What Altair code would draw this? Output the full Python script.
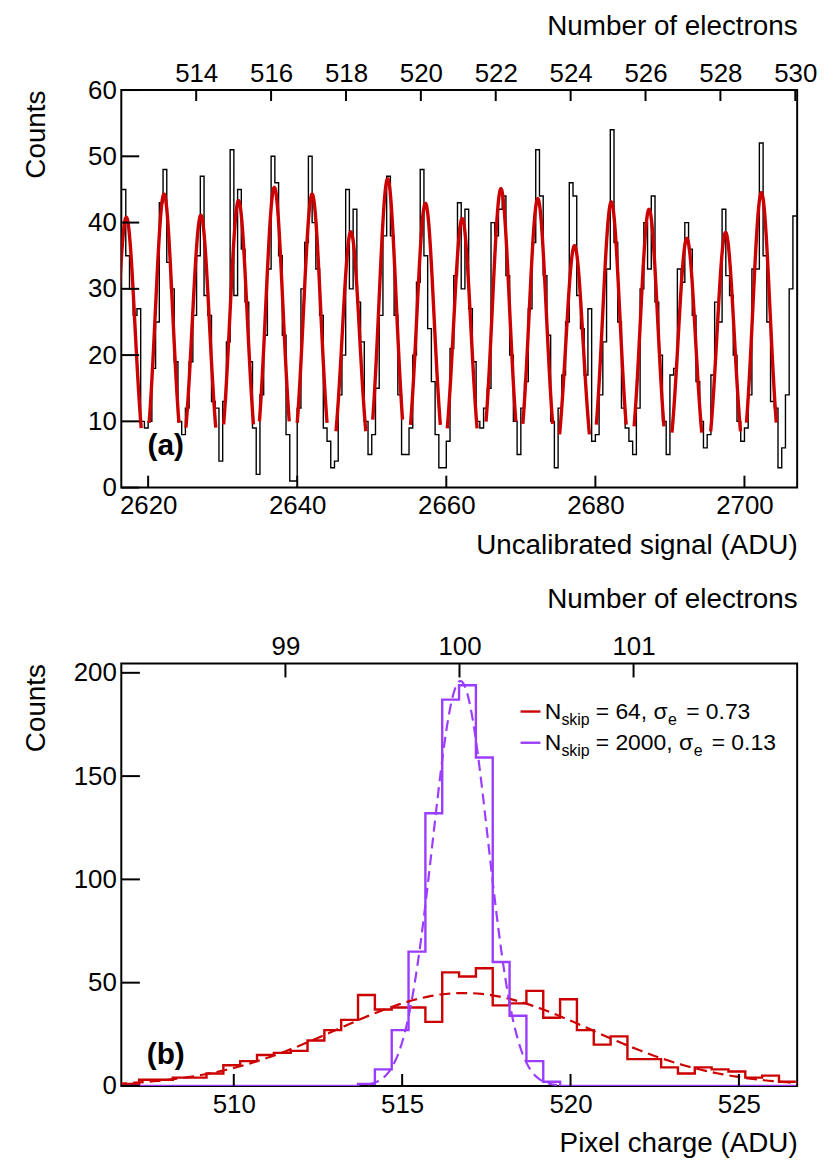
import altair as alt
import pandas as pd
import numpy as np

FONT = "Liberation Sans"

# ---------------- Panel (a) data ----------------
a_bin_start = 2616.0
a_bin_width = 0.5
a_counts = [45,
    45, 35, 30, 26, 27, 10,
    9, 10, 18, 25, 43, 48, 34, 30, 19, 10,
    8, 12, 19, 26, 35, 47, 29, 26, 13, 12,
    4, 13, 22, 51, 29, 45, 36, 28, 19, 9,
    2, 14, 23, 33, 50, 46, 35, 23, 8, 1,
    1, 12, 30, 37, 50, 40, 33, 26, 9, 7,
    3, 4, 14, 20, 45, 30, 42, 28, 22, 10,
    5, 8, 15, 26, 38, 47, 38, 26, 14, 5,
    5, 9, 20, 31, 48, 35, 24, 16, 8, 3,
    3, 7, 21, 32, 43, 30, 42, 27, 19, 10,
    9, 12, 15, 40, 38, 42, 44, 32, 20, 10,
    5, 12, 16, 27, 37, 51, 44, 32, 23, 10,
    3, 12, 17, 25, 46, 44, 29, 24, 17, 27,
    7, 8, 14, 22, 33, 54, 37, 25, 12, 9,
    7, 5, 12, 30, 40, 33, 44, 28, 20, 10,
    5, 17, 18, 33, 31, 40, 36, 26, 16, 10,
    6, 8, 17, 28, 25, 42, 32, 29, 20, 10,
    7, 9, 14, 33, 33, 52, 35, 25, 13, 12,
    3, 6, 14, 30, 41]
a_peak_centers = [2617.07, 2622.13, 2627.07, 2632.13, 2636.93, 2642.0, 2647.2, 2652.13,
                  2657.2, 2662.13, 2667.33, 2672.27, 2677.2, 2682.13, 2687.2, 2692.27,
                  2697.47, 2702.27]
a_peak_heights = [40.8, 44.3, 41.1, 43.3, 45.3, 44.3, 38.6, 46.6, 42.9, 40.6, 45.1, 43.6,
                  36.5, 43.1, 42.0, 37.6, 38.5, 44.5]
a_peak_sigma = 1.15
a_fit_halfrange = 2.0
a_x_ticks = [2620, 2640, 2660, 2680, 2700]
a_y_ticks = [0, 10, 20, 30, 40, 50, 60]
a_e_ticks = [514, 516, 518, 520, 522, 524, 526, 528, 530]

# ---------------- Panel (b) data ----------------
b_bin_start = 506.69
b_bin_width = 0.5
b_red_counts = [1, 3, 3, 4, 4, 6, 10, 12, 15, 16, 17, 22, 27, 32, 44, 37, 38, 38, 31, 55,
                53, 57, 39, 40, 46, 33, 42, 27, 20, 24, 13, 13, 9, 6, 9, 8, 7, 4, 5, 2]
b_purple_counts = [0, 0, 0, 0, 0, 0, 0, 0, 0, 0, 0, 0, 0, 0, 1, 8, 27, 65, 132, 187,
                   194, 159, 60, 34, 12, 2, 0, 0, 0, 0, 0, 0, 0, 0, 0, 0, 0, 0, 0, 0]
b_red_fit = (45.0, 516.83, 3.77)      # amplitude, mean, sigma (ADU)
b_purple_fit = (196.0, 516.73, 0.82)
b_purple_fit_range = (514.0, 519.6)
b_x_ticks = [510, 515, 520, 525]
b_y_ticks = [0, 50, 100, 150, 200]
b_e_ticks = [99, 100, 101]
legend_labels = [("N", "skip", "= 64, σ", "e", "= 0.73"),
                 ("N", "skip", "= 2000, σ", "e", "= 0.13")]

RED = "#cc0000"
PURPLE = "#9b3dff"
W = 680
HA, HB = 400, 425
LAB = 26
TIT = 28


def step_df(start, width, counts):
    xs = [start + i * width for i in range(len(counts) + 1)]
    ys = list(counts) + [counts[-1]]
    return pd.DataFrame({"x": xs, "y": ys})


def gauss_df(amp, mean, sigma, lo, hi, key=0):
    xs = np.linspace(lo, hi, 160)
    ys = amp * np.exp(-(xs - mean) ** 2 / (2 * sigma ** 2))
    return pd.DataFrame({"x": xs, "y": ys, "k": key})


ax_common = dict(labelFont=FONT, labelFontSize=LAB, titleFont=FONT, titleFontSize=TIT,
                 titleFontWeight="normal", labelColor="black", titleColor="black",
                 domain=False, ticks=False, tickSize=0, grid=False)


def panel(xdom, ydom, edom, height, xticks, yticks, eticks, xtitle, layers_fn, ltick, ttick):
    xs = alt.Scale(domain=xdom, nice=False, zero=False)
    ys = alt.Scale(domain=ydom, nice=False, zero=False)
    es = alt.Scale(domain=edom, nice=False, zero=False)
    xaxis = alt.Axis(values=xticks, title=xtitle, titleAnchor="end", labelPadding=5.5,
                     titlePadding=12.5, format="d", orient="bottom", **ax_common)
    yaxis = alt.Axis(values=yticks, title="Counts", titleAnchor="end", labelPadding=5,
                     titleX=-71, format="d", orient="left", **ax_common)
    eaxis = alt.Axis(values=eticks, title="Number of electrons", titleAnchor="end",
                     orient="top", labelPadding=4, titlePadding=20, format="d", **ax_common)

    layers = layers_fn(xs, ys, xaxis, yaxis)
    lt = alt.Chart(pd.DataFrame({"v": yticks})).mark_rule(color="black", strokeWidth=2).encode(
        y=alt.Y("v:Q", scale=ys, axis=yaxis), x=alt.value(0), x2=alt.value(ltick))
    bt = alt.Chart(pd.DataFrame({"v": xticks})).mark_rule(color="black", strokeWidth=2).encode(
        x=alt.X("v:Q", scale=xs, axis=None), y=alt.value(height - 12), y2=alt.value(height))
    top = alt.Chart(pd.DataFrame({"e": eticks})).mark_rule(color="black", strokeWidth=2).encode(
        x=alt.X("e:Q", scale=es, axis=eaxis), y=alt.value(0), y2=alt.value(ttick))
    return alt.layer(*layers, lt, bt, top).resolve_scale(x="independent").properties(
        width=W, height=height)


def layers_a(xs, ys, xaxis, yaxis):
    hist = alt.Chart(step_df(a_bin_start, a_bin_width, a_counts)).mark_line(
        interpolate="step-after", color="black", strokeWidth=1.4, clip=True).encode(
        x=alt.X("x:Q", scale=xs, axis=xaxis), y=alt.Y("y:Q", scale=ys, axis=yaxis))
    fit = pd.concat([gauss_df(h, c, a_peak_sigma, c - a_fit_halfrange, c + a_fit_halfrange, i)
                     for i, (c, h) in enumerate(zip(a_peak_centers, a_peak_heights))])
    fits = alt.Chart(fit).mark_line(color=RED, strokeWidth=3.4, clip=True).encode(
        x=alt.X("x:Q", scale=xs, axis=None), y=alt.Y("y:Q", scale=ys, axis=yaxis),
        detail="k:N")
    lab = alt.Chart(pd.DataFrame({"x": [2622.36], "y": [6.2], "t": ["(a)"]})).mark_text(
        font=FONT, fontSize=30, fontWeight="bold", color="black").encode(
        x=alt.X("x:Q", scale=xs, axis=None), y=alt.Y("y:Q", scale=ys, axis=yaxis), text="t:N")
    return [hist, fits, lab]


def layers_b(xs, ys, xaxis, yaxis):
    red = alt.Chart(step_df(b_bin_start, b_bin_width, b_red_counts)).mark_line(
        interpolate="step-after", color=RED, strokeWidth=2.4, clip=True).encode(
        x=alt.X("x:Q", scale=xs, axis=xaxis), y=alt.Y("y:Q", scale=ys, axis=yaxis))
    pur = alt.Chart(step_df(b_bin_start, b_bin_width, b_purple_counts)).mark_line(
        interpolate="step-after", color=PURPLE, strokeWidth=2.4, clip=True).encode(
        x=alt.X("x:Q", scale=xs, axis=None), y=alt.Y("y:Q", scale=ys, axis=yaxis))
    a1, m1, s1 = b_red_fit
    a2, m2, s2 = b_purple_fit
    rfit = alt.Chart(gauss_df(a1, m1, s1, 506.0, 527.5)).mark_line(
        color=RED, strokeWidth=2.2, strokeDash=[11, 6], clip=True).encode(
        x=alt.X("x:Q", scale=xs, axis=None), y=alt.Y("y:Q", scale=ys, axis=yaxis))
    pfit = alt.Chart(gauss_df(a2, m2, s2, *b_purple_fit_range)).mark_line(
        color=PURPLE, strokeWidth=2.2, strokeDash=[11, 6], clip=True).encode(
        x=alt.X("x:Q", scale=xs, axis=None), y=alt.Y("y:Q", scale=ys, axis=yaxis))
    lab = alt.Chart(pd.DataFrame({"x": [507.98], "y": [15.0], "t": ["(b)"]})).mark_text(
        font=FONT, fontSize=30, fontWeight="bold", color="black").encode(
        x=alt.X("x:Q", scale=xs, axis=None), y=alt.Y("y:Q", scale=ys, axis=yaxis), text="t:N")
    out = [red, pur, rfit, pfit, lab]
    # legend (annotation, pixel positioned inside the plot area)
    one = pd.DataFrame({"d": [0]})
    for row, (col, y_line, y_base, y_sub, e_x, after_x) in enumerate(
            [(RED, 48.3, 55.7, 62.0, 550.0, 568.3), (PURPLE, 79.7, 87.3, 93.3, 576.0, 594.0)]):
        n, sk, mid, e, tail = legend_labels[row]
        out.append(alt.Chart(one).mark_rule(color=col, strokeWidth=2.4).encode(
            x=alt.value(401.7), x2=alt.value(421.7), y=alt.value(y_line)))
        pieces = [(n, 426.0, y_base, 23), (sk, 442.8, y_sub, 16), (mid, 477.3, y_base, 23),
                  (e, e_x, y_sub, 16), (tail, after_x, y_base, 23)]
        for txt, px, py, fs in pieces:
            out.append(alt.Chart(one).mark_text(
                font=FONT, fontSize=fs, align="left", baseline="alphabetic", color="black",
                text=txt).encode(x=alt.value(px), y=alt.value(py)))
    return out


panel_a = panel([2616.4, 2707.07], [0, 60], [512.0, 530.05], HA, a_x_ticks, a_y_ticks,
                a_e_ticks, "Uncalibrated signal (ADU)", layers_a, 18, 11)
panel_b = panel([506.66, 526.73], [0, 204.5], [98.057, 101.94], HB, b_x_ticks, b_y_ticks,
                b_e_ticks, "Pixel charge (ADU)", layers_b, 18.7, 14)

chart = alt.vconcat(panel_a, panel_b, spacing=25).properties(
    padding={"left": 13, "top": 0, "right": 5, "bottom": 5}
).configure(font=FONT, view=alt.ViewConfig(stroke="black", strokeWidth=2))

chart.save("out.html", embed_options={"renderer": "svg", "actions": False})
